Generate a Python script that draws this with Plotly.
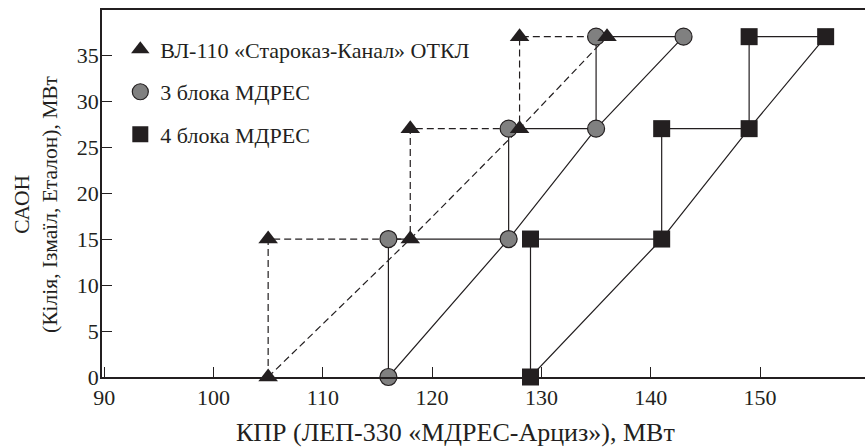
import plotly.graph_objects as go

# Load levels (САОН, МВт) shared by all series
levels = [0, 15, 27, 37]
# КПР values at each level
tri_x = [105, 118, 128, 136]     # ВЛ-110 «Староказ-Канал» ОТКЛ
circ_x = [116, 127, 135, 143]    # 3 блока МДРЕС
sq_x = [129, 141, 149, 156]      # 4 блока МДРЕС

names = ["ВЛ-110 «Староказ-Канал» ОТКЛ", "3 блока МДРЕС", "4 блока МДРЕС"]
x_ticks = [90, 100, 110, 120, 130, 140, 150]
y_ticks = [0, 5, 10, 15, 20, 25, 30, 35]

FONT = "Liberation Serif"
INK = "#231f20"


def stair_points(xs, ys):
    px, py = [], []
    for i in range(len(xs)):
        px.append(xs[i]); py.append(ys[i])
        if i + 1 < len(xs):
            px.append(xs[i]); py.append(ys[i + 1])
    return px, py


fig = go.Figure()

series = [
    (tri_x, dict(symbol="triangle-up", size=17, color=INK, line=dict(width=0)), "7px,4px"),
    (circ_x, dict(symbol="circle", size=17, color="#808080", line=dict(width=1.2, color=INK)), "solid"),
    (sq_x, dict(symbol="square", size=17, color=INK, line=dict(width=0)), "solid"),
]

# lines first
for xs, mk, dash in series:
    fig.add_trace(go.Scatter(x=xs, y=levels, mode="lines", line=dict(color=INK, width=1.2, dash=dash, shape="vh"),
                             showlegend=False, hoverinfo="skip", cliponaxis=False))
    fig.add_trace(go.Scatter(x=xs, y=levels, mode="lines", line=dict(color=INK, width=1.2, dash=dash),
                             showlegend=False, hoverinfo="skip", cliponaxis=False))

# markers: circles, squares, then triangles on top
order = [1, 2, 0]
for idx in order:
    xs, mk, dash = series[idx]
    px, py = stair_points(xs, levels)
    fig.add_trace(go.Scatter(x=px, y=py, mode="markers", marker=mk, name=names[idx],
                             legendrank=idx + 1, legendgroup="g%d" % idx, cliponaxis=False))

fig.update_layout(
    width=865, height=447,
    margin=dict(l=102, r=0, t=10, b=70),
    paper_bgcolor="white", plot_bgcolor="white",
    font=dict(family=FONT, size=20, color=INK),
    showlegend=True,
    legend=dict(x=0.024, y=0.95, xanchor="left", yanchor="top", bgcolor="rgba(0,0,0,0)",
                font=dict(family=FONT, size=22, color=INK), tracegroupgap=11,
                itemsizing="trace", traceorder="grouped"),
    xaxis=dict(range=[89.8, 159.6], tickvals=x_ticks, ticks="inside", ticklen=10, tickwidth=1.2,
               tickcolor=INK, showline=True, linecolor=INK, linewidth=1.5, mirror=True,
               showgrid=False, zeroline=False, tickfont=dict(family=FONT, size=22, color=INK)),
    yaxis=dict(range=[0, 39.9], tickvals=y_ticks, ticks="inside", ticklen=10, tickwidth=1.2,
               tickcolor=INK, showline=True, linecolor=INK, linewidth=1.5, ticklabelstandoff=-3,
               showgrid=False, zeroline=False, tickfont=dict(family=FONT, size=22, color=INK)),
    annotations=[
        dict(text="КПР (ЛЕП-330 «МДРЕС-Арциз»), МВт", xref="paper", yref="paper", x=0.463, y=0,
             yshift=-55, xanchor="center", yanchor="middle", showarrow=False,
             font=dict(family=FONT, size=26, color=INK)),
        dict(text="САОН<br>(Кілія, Ізмаїл, Еталон), МВт", xref="paper", yref="paper", x=0, y=0.469,
             xshift=-66, xanchor="center", yanchor="middle", textangle=-90, showarrow=False,
             font=dict(family=FONT, size=21.5, color=INK)),
    ],
)

fig.write_html("out.html", config={"displayModeBar": False},
               post_script="document.body.style.margin='0';document.body.style.overflow='hidden';")
